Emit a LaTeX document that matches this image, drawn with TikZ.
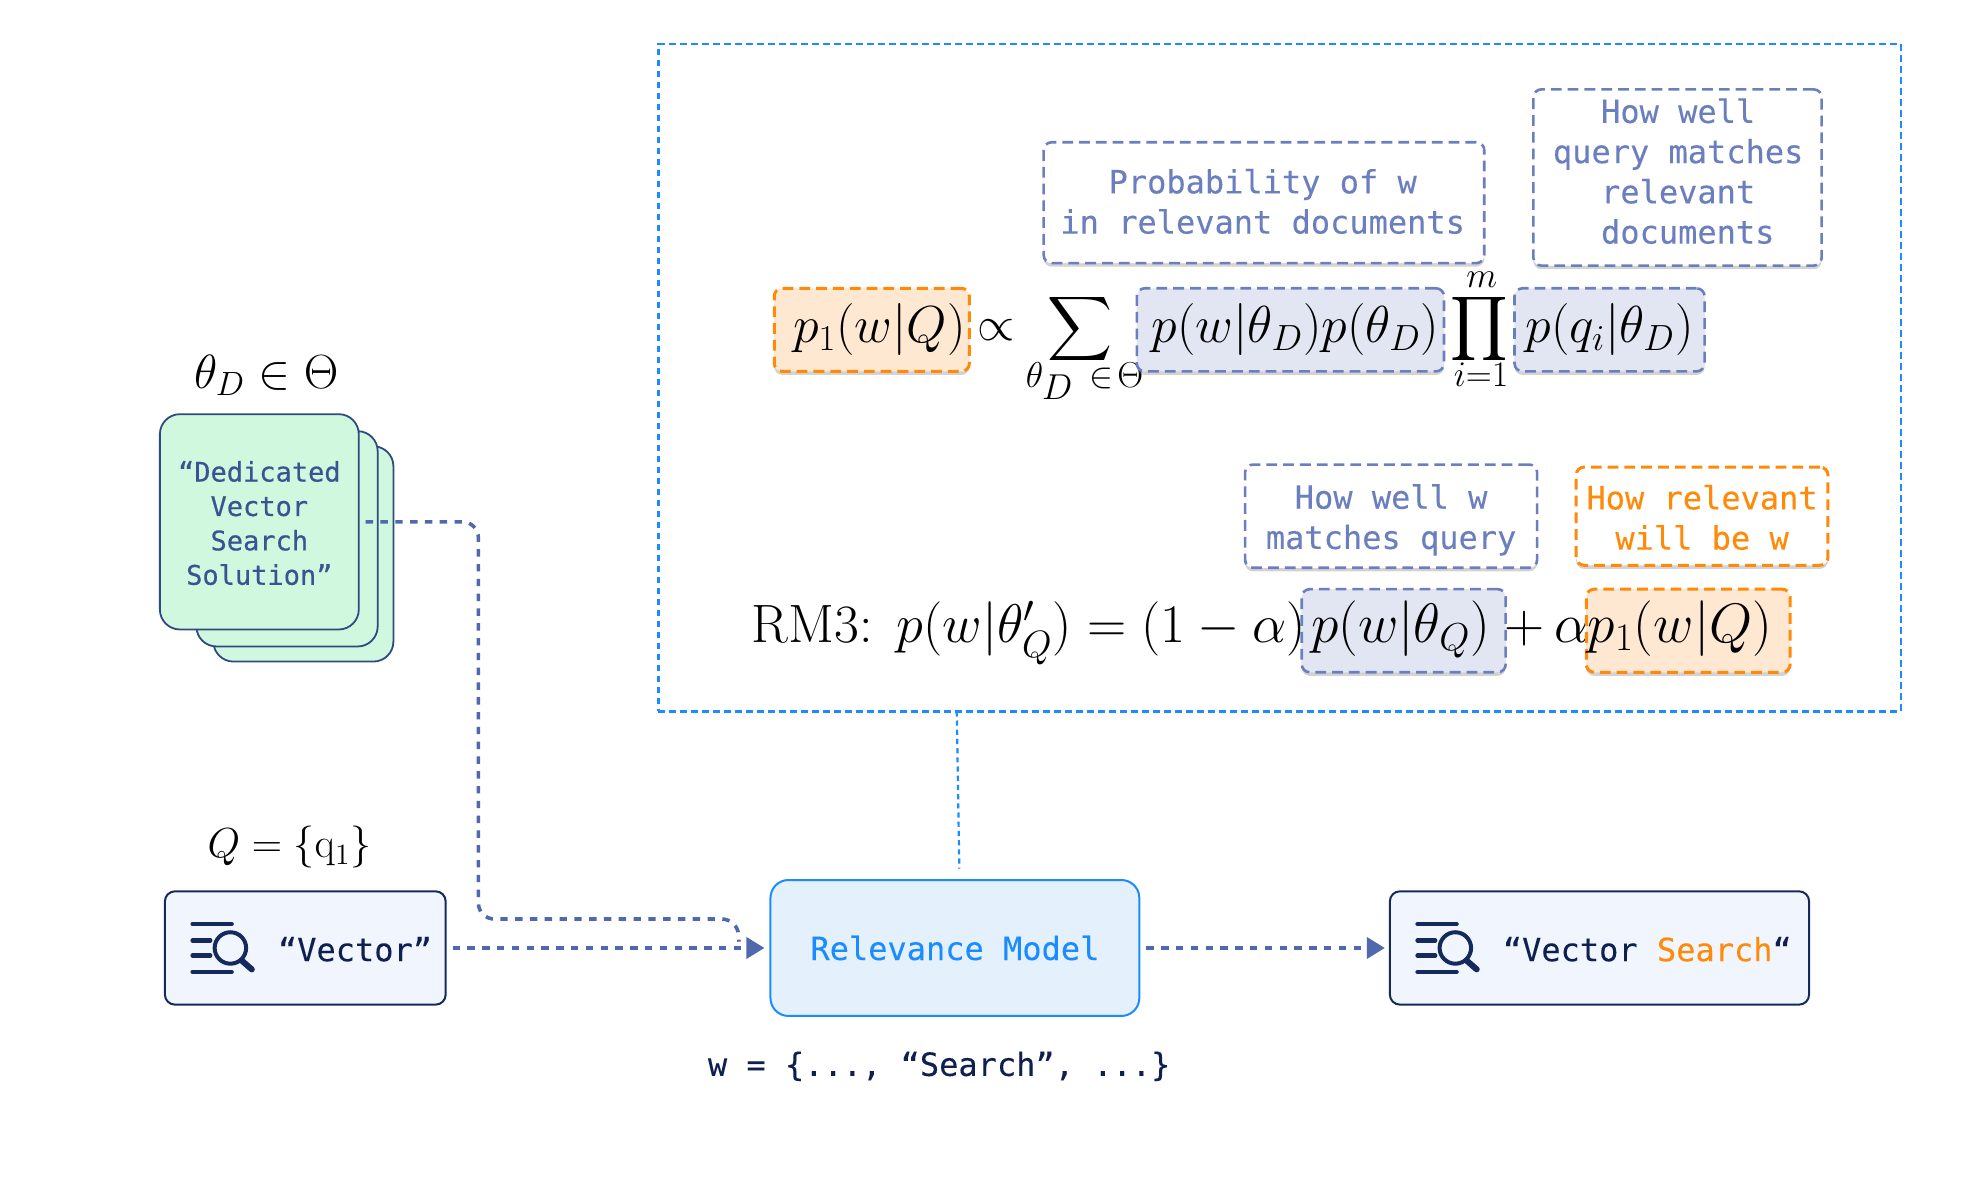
\documentclass[tikz,border=0pt]{standalone}
\usepackage{fix-cm}
\usepackage[no-math]{fontspec}
\usepackage{amsmath}
\usepackage{amssymb}
\usetikzlibrary{arrows.meta}
\usetikzlibrary{shadows}
\newfontfamily\monofam[FakeBold=0.15]{DejaVu Sans Mono}
\newfontfamily\monoheavy[FakeBold=0.45]{DejaVu Sans Mono}
\definecolor{skyline}{HTML}{1A8CFF}
\definecolor{skyfill}{HTML}{E4F1FD}
\definecolor{slateline}{HTML}{6B7FBF}
\definecolor{slatefill}{HTML}{E2E6F3}
\definecolor{orangeline}{HTML}{FF8A0A}
\definecolor{orangefill}{HTML}{FFE8D2}
\definecolor{navyline}{HTML}{14295C}
\definecolor{navytext}{HTML}{0F2050}
\definecolor{queryfill}{HTML}{F1F6FE}
\definecolor{mintfill}{HTML}{D0F8DE}
\definecolor{mintline}{HTML}{2F4A7F}
\definecolor{minttext}{HTML}{3B5391}
\definecolor{flowline}{HTML}{5068AE}
\def\U{0.62946pt}
\newcommand{\listsearch}[2]{
\draw[navyline, line width=2.2pt, line cap=round] (#1,#2) ++(2,1) -- ++(31,0) ++(-31,13) -- ++(14,0) ++(-14,12) -- ++(14,0) ++(-14,13) -- ++(31,0);
\draw[navyline, line width=2pt] (#1,#2) ++(32,20) circle [radius=12.5];
\draw[navyline, line width=3pt, line cap=round] (#1,#2) ++(41,30) -- ++(8,7);
}
\begin{document}
\begin{tikzpicture}[x=\U, y=-\U,
every node/.style={inner sep=0pt},
monotext/.style={font=\monofam\fontsize{16}{20.1}\selectfont, align=center},
mathtop/.style={font=\fontsize{26}{31}\selectfont},
mathrow/.style={font=\fontsize{27.8}{33}\selectfont},
mathbig/.style={font=\fontsize{24}{29}\selectfont},
mathop/.style={font=\fontsize{22.5}{27}\selectfont},
mathsmall/.style={font=\fontsize{18}{22}\selectfont},
boxsize/.style 2 args={minimum width=#1*\U, minimum height=#2*\U},
slatedash/.style={draw=slateline, line width=1.3pt, rounded corners=4pt, dash pattern=on 5.4pt off 3pt, drop shadow={shadow xshift=0pt, shadow yshift=-1.8pt, opacity=0.35}},
orangedash/.style={draw=orangeline, line width=1.5pt, rounded corners=4pt, dash pattern=on 5.4pt off 3pt, drop shadow={shadow xshift=0pt, shadow yshift=-1.8pt, opacity=0.35}},
mintcard/.style={draw=mintline, fill=mintfill, line width=0.9pt, rounded corners=10pt, boxsize={#1}{171}},
querybox/.style={draw=navyline, fill=queryfill, line width=1pt, rounded corners=5pt},
flow/.style={draw=flowline, line width=1.8pt, dash pattern=on 3.7pt off 3.7pt},
flowtip/.style={flow, -{Triangle[length=9pt, width=10.5pt, fill=flowline]}}]
\useasboundingbox (0,0) rectangle (1568,934.2);

\node[draw=skyline, line width=1.3pt, dash pattern=on 3.2pt off 2.3pt, boxsize={987}{530}] (rmbox) at (1016.5,300) {};

\node[slatedash, fill=white, boxsize={350}{96}] (probnote) at (1004,161) {};
\node[monotext, text=slateline] (probtext) at (1003,160) {Probability of w\\in relevant documents};
\node[slatedash, fill=white, boxsize={229}{140}] (querynote) at (1332.5,141) {};
\node[monotext, text=slateline] (querytext) at (1333,136) {How well\\query matches\\relevant\\\hspace*{9.6pt}documents};
\node[slatedash, fill=white, boxsize={232}{82}] (wellnote) at (1105,410) {};
\node[monotext, text=slateline] (welltext) at (1105,413) {How well w\\matches query};
\node[orangedash, fill=white, boxsize={200}{78}] (relnote) at (1352,410) {};
\node[monotext, text=orangeline] (reltext) at (1352,411) {How relevant\\will be w};

\node[orangedash, fill=orangefill, boxsize={155}{66}] (pfirst) at (692.5,262) {};
\node[mathtop, anchor=base] (pfirsttext) at (698.5,272) {$p_1(w|Q)$};
\node[mathbig] (propsign) at (791,262) {$\propto$};
\node[mathop] (sumsign) at (858,261.5) {$\displaystyle\sum$};
\node[mathsmall, anchor=base] (sumindex) at (861.5,308) {$\theta_{\textstyle D}\,\in\!\Theta$};
\node[slatedash, fill=slatefill, boxsize={244}{66}] (pdoc) at (1025,262) {};
\node[mathtop, anchor=base] (pdoctext) at (1029,272) {$p(w|\theta_D)p(\theta_D)$};
\node[mathop] (prodsign) at (1175,261) {$\displaystyle\prod$};
\node[mathsmall, anchor=base] (prodtop) at (1177,228) {$m$};
\node[mathsmall, anchor=base] (prodindex) at (1176.5,307) {$i{=}1$};
\node[slatedash, fill=slatefill, boxsize={151}{66}] (pquery) at (1278.5,262) {};
\node[mathtop, anchor=base] (pquerytext) at (1278.5,272) {$p(q_i|\theta_D)$};

\node[font=\fontsize{27}{32}\selectfont, anchor=base west] (rmlabel) at (597,510) {RM3:};
\node[slatedash, fill=slatefill, boxsize={162}{66}] (pword) at (1115,501) {};
\node[font=\fontsize{27.2}{33}\selectfont, anchor=base west] (rmleft) at (712,510) {$p(w|\theta'_Q)=(1-\alpha)$};
\node[mathrow, anchor=base] (pwordtext) at (1112.5,510) {$p(w|\theta_Q)$};
\node[mathrow, anchor=base west] (rmplus) at (1195,510) {$+\,\alpha$};
\node[orangedash, fill=orangefill, boxsize={162}{66}] (psecond) at (1341,501) {};
\node[mathrow, anchor=base] (psecondtext) at (1334.5,510) {$p_1(w|Q)$};

\node[mathbig] (thetalabel) at (211.5,298) {$\theta_D\in\Theta$};
\node[mintcard=143] (backcard) at (241,440) {};
\node[mintcard=144] (midcard) at (228,428) {};
\node[mintcard=158] (frontcard) at (206,414.5) {};
\node[font=\monoheavy\fontsize{13.5}{17.2}\selectfont, align=center, text=minttext] (cardtext) at (206,415.5) {“Dedicated\\Vector\\Search\\Solution”};

\node[font=\fontsize{21}{25}\selectfont] (qlabel) at (230,673) {$Q=\{\mathrm{q}_1\}$};
\node[querybox, boxsize={223}{90}] (vecbox) at (242.5,753) {};
\listsearch{151}{733}
\node[monotext, text=navytext] (vectext) at (282,754) {“Vector”};

\node[draw=skyline, fill=skyfill, line width=1pt, rounded corners=9pt, monotext, text=skyline, boxsize={293}{108}] (relmodel) at (758.5,753) {Relevance Model};
\node[monotext, text=navytext] (wlabel) at (746,847) {w = \{..., “Search”, ...\}};

\node[querybox, boxsize={333}{90}] (resbox) at (1270.5,753) {};
\listsearch{1124}{733}
\node[monotext, text=navytext] (restext) at (1308.5,754) {“Vector \textcolor{orangeline}{Search}“};

\coordinate (rmfoot) at (760,565);
\coordinate (rmtop) at (762,690);
\coordinate (mergept) at (587,748);
\draw[draw=skyline, line width=1.1pt, dash pattern=on 2.6pt off 2pt] (rmfoot) -- (rmtop);
\draw[flow, rounded corners=8pt, shorten <=3pt] (frontcard.east) -- (380,414.5) -- (380,730) -- (586,730) -- (mergept);
\draw[flowtip, shorten <=3pt, shorten >=2.5pt] (vecbox.east) -- (relmodel.west);
\draw[flowtip, shorten <=3pt, shorten >=2pt] (relmodel.east) -- (resbox.west);
\end{tikzpicture}
\end{document}
